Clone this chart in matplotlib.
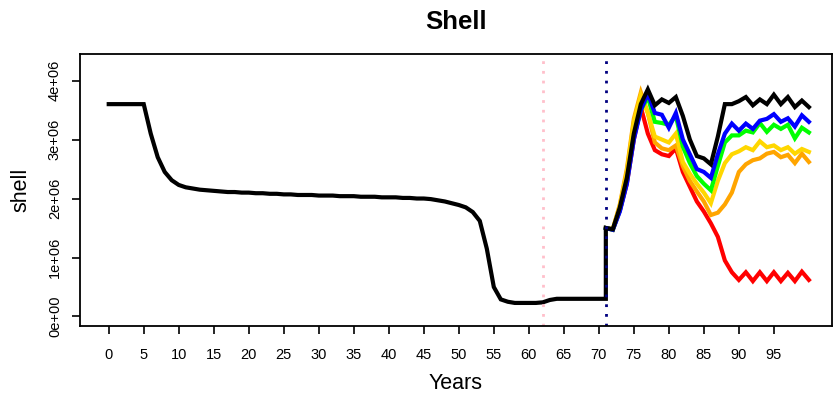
import numpy as np
import matplotlib
matplotlib.use("Agg")
import matplotlib.pyplot as plt

plt.rcParams['font.family'] = ['Liberation Sans', 'DejaVu Sans']

# historical run, years 0..71, shell in millions
hist_years = list(range(0, 72))
hist_shell = [3.6, 3.6, 3.6, 3.6, 3.6, 3.6,
              3.1, 2.7, 2.45, 2.31, 2.23, 2.19, 2.17, 2.15, 2.14, 2.13,
              2.12, 2.11, 2.11, 2.10, 2.10, 2.09, 2.09, 2.08, 2.08, 2.07,
              2.07, 2.06, 2.06, 2.06, 2.05, 2.05, 2.05, 2.04, 2.04, 2.04,
              2.03, 2.03, 2.03, 2.02, 2.02, 2.02, 2.01, 2.01, 2.0, 2.0,
              1.99, 1.97, 1.95, 1.92, 1.89, 1.85, 1.77, 1.62, 1.15, 0.5,
              0.29, 0.25, 0.23, 0.23, 0.23, 0.23, 0.24, 0.28, 0.3,
              0.3, 0.3, 0.3, 0.3, 0.3, 0.3, 0.3]

# projections, years 71..100
proj_years = list(range(71, 101))
proj_red = [1.5, 1.47, 1.8, 2.25, 3.0, 3.55, 3.1, 2.82, 2.75, 2.72,
            2.85, 2.45, 2.2, 1.95, 1.78, 1.58, 1.35, 0.95, 0.75, 0.62,
            0.75, 0.6, 0.75, 0.6, 0.75, 0.6, 0.74, 0.6, 0.76, 0.62]
proj_orange = [1.5, 1.48, 1.9, 2.5, 3.35, 3.8, 3.45, 2.95, 2.85, 2.82,
               2.9, 2.55, 2.3, 2.12, 1.95, 1.72, 1.76, 1.9, 2.1, 2.45,
               2.58, 2.65, 2.68, 2.76, 2.79, 2.7, 2.74, 2.6, 2.76, 2.62]
proj_gold = [1.5, 1.48, 1.88, 2.45, 3.3, 3.75, 3.45, 3.05, 3.0, 2.95,
             3.1, 2.62, 2.42, 2.25, 2.1, 1.92, 2.3, 2.6, 2.75, 2.8,
             2.87, 2.82, 2.97, 2.87, 2.9, 2.82, 2.87, 2.76, 2.84, 2.79]
proj_green = [1.5, 1.47, 1.8, 2.28, 3.05, 3.5, 3.72, 3.3, 3.28, 3.25,
              3.4, 2.88, 2.6, 2.38, 2.25, 2.14, 2.55, 2.95, 3.07, 3.07,
              3.15, 3.12, 3.28, 3.13, 3.25, 3.18, 3.25, 3.02, 3.2, 3.12]
proj_blue = [1.5, 1.47, 1.78, 2.25, 3.0, 3.5, 3.78, 3.45, 3.42, 3.2,
             3.45, 3.0, 2.75, 2.5, 2.45, 2.35, 2.75, 3.1, 3.27, 3.15,
             3.27, 3.18, 3.32, 3.35, 3.43, 3.3, 3.36, 3.22, 3.41, 3.3]
proj_black = [1.5, 1.48, 1.85, 2.35, 3.1, 3.6, 3.85, 3.58, 3.68, 3.62,
              3.72, 3.4, 3.0, 2.72, 2.68, 2.58, 3.05, 3.6, 3.6, 3.65,
              3.72, 3.58, 3.68, 3.6, 3.76, 3.6, 3.72, 3.55, 3.66, 3.55]

xticks = list(range(0, 100, 5))
yticks = [0, 1e6, 2e6, 3e6, 4e6]
ytick_labels = ["0e+00", "1e+06", "2e+06", "3e+06", "4e+06"]

fig = plt.figure(figsize=(8.37, 3.97), dpi=100)
ax = fig.add_axes([0.0956, 0.179, 0.8984, 0.685])

lw = 3.0
for vals, col in [(proj_red, 'red'), (proj_orange, 'orange'), (proj_gold, 'gold'),
                  (proj_green, '#00ff00'), (proj_blue, 'blue')]:
    ax.plot(proj_years, np.array(vals) * 1e6, color=col, lw=lw, solid_joinstyle='miter')

# black: history joined with the baseline projection (vertical step at 71)
ax.plot(hist_years + proj_years, np.array(hist_shell + proj_black) * 1e6,
        color='black', lw=lw, solid_joinstyle='miter')

ax.axvline(62, color='pink', lw=2, linestyle=(0, (1, 2.5)))
ax.axvline(71, color='navy', lw=2, linestyle=(0, (1, 2.5)))

ax.set_xlim(-4.1, 103.3)
ax.set_ylim(-0.16e6, 4.45e6)
ax.set_xticks(xticks)
ax.set_xticklabels([str(t) for t in xticks], fontsize=10.5)
ax.set_yticks(yticks)
ax.set_yticklabels(ytick_labels, fontsize=10.5, rotation=90, va='center')
ax.tick_params(axis='x', length=6, width=1.2, pad=10)
ax.tick_params(axis='y', length=6, width=1.2, pad=7)
for s in ax.spines.values():
    s.set_linewidth(1.3)

ax.set_title("Shell", fontsize=18.5, fontweight='bold', pad=18)
ax.set_xlabel("Years", fontsize=15.5, labelpad=8)
ax.set_ylabel("shell", fontsize=15.5, labelpad=12)

fig.savefig("out.png", dpi=100)
